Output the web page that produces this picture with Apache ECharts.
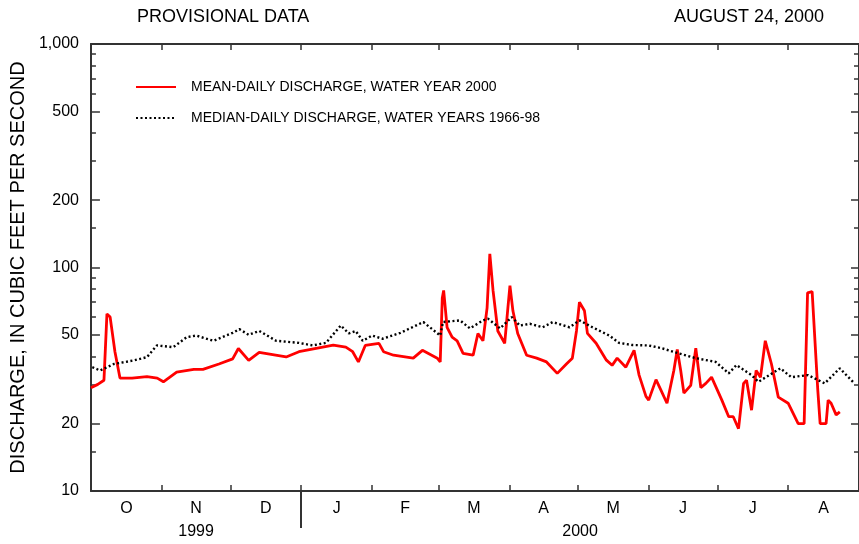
<!DOCTYPE html>
<html><head><meta charset="utf-8">
<script src="https://cdn.jsdelivr.net/npm/echarts@6/dist/echarts.min.js"></script>
<style>html,body{margin:0;padding:0;background:#fff}#c{width:859px;height:544px}</style>
</head><body><div id="c"></div>
<script>
// Day index counted from Oct 1, 1999 (water year 2000)
const meanDays = [0, 3, 5.7, 7, 8.4, 10.5, 12.7, 18, 24.5, 29, 31.7, 37.5, 45, 49, 56, 62, 64.5, 69, 73.6, 85.4, 91, 106, 111.5, 114.5, 117, 120, 126, 128, 132.4, 141, 145, 151.5, 152.8, 153.7, 154.3, 155.8, 158, 160.2, 162.8, 167.2, 169.3, 171.5, 173.3, 174.5, 175.9, 178, 181, 182.4, 183.3, 184.6, 186.7, 190.6, 195, 199.3, 204, 208, 210.6, 212.4, 213.7, 215.9, 217.2, 221, 225.5, 228, 230.2, 234, 237.6, 239.8, 242.8, 244, 247.2, 249.4, 252, 255, 256.5, 258, 259.4, 262.4, 264.6, 266.8, 269, 271.5, 276, 279, 281, 283.3, 285.5, 286.8, 289, 291, 292.9, 295, 297.7, 300.7, 305, 309.4, 312, 313.5, 315.5, 318, 319, 321.6, 322.5, 323.8, 326, 327.6];
const meanValues = [29, 30, 31.3, 62, 60, 42, 32, 32, 32.5, 32, 30.8, 34, 35, 35, 37, 39, 43.4, 38.4, 41.7, 39.8, 42, 45, 44, 42, 37.8, 44.8, 45.8, 42, 40.5, 39.3, 42.6, 39.3, 37.8, 73, 79, 54, 48.8, 47, 41.3, 40.5, 50.7, 47, 66, 115, 79, 52, 45.8, 66, 83, 64, 50.7, 40.5, 39.3, 37.8, 33.6, 37, 39.3, 52, 70, 64, 50.7, 45.8, 38.5, 36.5, 39.3, 35.8, 42.6, 33, 26.5, 25.5, 31.5, 28.2, 24.7, 34.6, 43, 34.6, 27.4, 29.7, 43.5, 29, 30.3, 32.3, 25.5, 21.5, 21.5, 19, 30.3, 31.3, 23, 34.6, 32.3, 47, 37, 26.3, 24.7, 20, 20, 77, 78, 28, 20, 20, 25.5, 24.7, 21.9, 22.6];
const medianDays = [0.6, 4, 10, 18.8, 24.5, 28.8, 36, 41.9, 46, 53.6, 62, 64.9, 69, 73.6, 81, 91, 97, 102.8, 109.3, 112.8, 115.8, 118.9, 123, 127.6, 135.4, 145.4, 152.8, 154, 161.5, 165.8, 171.5, 173.7, 179, 184.1, 187.6, 192, 197.6, 202, 209.4, 213.7, 219.4, 226.8, 231, 236.8, 244, 249.8, 257, 264.6, 273.3, 279, 282.4, 289, 292, 301.6, 306.4, 313.7, 321, 327.6, 334];
const medianValues = [35.8, 34.6, 37, 38.4, 39.7, 44.8, 44, 48.8, 49.6, 47, 51, 53, 50, 52, 47, 46, 44.8, 46, 55, 50.7, 52, 47, 49.6, 48, 51, 57, 49.6, 57, 58, 53.4, 58, 59, 53.4, 60, 55, 56, 54, 57, 54, 58, 54, 49.6, 46, 45, 44.8, 43.5, 41.3, 39.3, 37.8, 33.6, 36.6, 33, 30.8, 35.4, 32.3, 33, 30.3, 35.4, 30.3];

const monthTickDays = [31, 61, 92, 123, 152, 183, 213, 244, 274, 305];
const monthLabelDays = [15.5, 46, 76.5, 107.5, 137.5, 167.5, 198, 228.5, 259, 289.5, 320.5];
const monthLabels = ['O', 'N', 'D', 'J', 'F', 'M', 'A', 'M', 'J', 'J', 'A'];
const yearBreakDay = [92];
const yearLabelDays = [46, 214];
const yearLabels = ['1999', '2000'];
const yLabelValues = [10, 20, 50, 100, 200, 500, 1000];
const yLabelTexts = ['10', '20', '50', '100', '200', '500', '1,000'];
const yMinorTicks = [15, 30, 40, 60, 70, 80, 90, 150, 300, 400, 600, 700, 800, 900];
const meanName = 'MEAN-DAILY DISCHARGE, WATER YEAR 2000';
const medianName = 'MEDIAN-DAILY DISCHARGE, WATER YEARS 1966-98';

const FONT = 'Liberation Sans, Arial, Helvetica, sans-serif';
const AX = '#333';
function pairs(xs, ys) { return xs.map((x, i) => [x, ys[i]]); }
function lookup(keys, texts) {
  return function (v) {
    for (let i = 0; i < keys.length; i++) if (Math.abs(keys[i] - v) < 0.01 * Math.max(1, keys[i])) return texts[i];
    return '';
  };
}
const xBase = { type: 'value', min: 0, max: 336, gridIndex: 0, splitLine: { show: false } };
const yBase = { type: 'log', logBase: 10, min: 10, max: 1000, gridIndex: 0, splitLine: { show: false } };

const chart = echarts.init(document.getElementById('c'), null, { renderer: 'canvas' });
chart.setOption({
  animation: false,
  backgroundColor: '#fff',
  textStyle: { fontFamily: FONT },
  title: [
    { text: 'PROVISIONAL DATA', left: 137, top: 8, padding: 0, textStyle: { fontSize: 18, fontWeight: 'normal', color: '#000', fontFamily: FONT } },
    { text: 'AUGUST 24, 2000', left: 674, top: 8, padding: 0, textStyle: { fontSize: 18, fontWeight: 'normal', color: '#000', fontFamily: FONT } }
  ],
  legend: {
    orient: 'vertical', left: 135, top: 80, padding: 0, itemWidth: 40, itemHeight: 14, itemGap: 17,
    data: [meanName, medianName],
    itemStyle: { opacity: 0 },
    textStyle: { fontSize: 14, color: '#000', fontFamily: FONT, padding: [0, 0, 0, 10] }
  },
  grid: { left: 89, right: -2, top: 44, bottom: 53, containLabel: false },
  xAxis: [
    Object.assign({}, xBase, {
      position: 'bottom',
      axisLine: { show: true, onZero: false, lineStyle: { color: AX, width: 2 } },
      axisTick: { show: true, inside: true, length: 6, customValues: monthTickDays, lineStyle: { color: AX, width: 1.5 } },
      axisLabel: { show: true, customValues: monthLabelDays, formatter: lookup(monthLabelDays, monthLabels), fontSize: 16, color: '#000', margin: 10, fontFamily: FONT }
    }),
    Object.assign({}, xBase, {
      position: 'bottom',
      axisLine: { show: false, onZero: false },
      axisTick: { show: true, inside: false, length: 37, customValues: yearBreakDay, lineStyle: { color: AX, width: 2 } },
      axisLabel: { show: true, customValues: yearLabelDays, formatter: lookup(yearLabelDays, yearLabels), fontSize: 16, color: '#000', margin: 33, fontFamily: FONT }
    }),
    Object.assign({}, xBase, {
      position: 'top',
      axisLine: { show: true, onZero: false, lineStyle: { color: AX, width: 2 } },
      axisTick: { show: true, inside: true, length: 6, customValues: monthTickDays, lineStyle: { color: AX, width: 1.5 } },
      axisLabel: { show: false }
    })
  ],
  yAxis: [
    Object.assign({}, yBase, {
      position: 'left',
      name: 'DISCHARGE, IN CUBIC FEET PER SECOND', nameLocation: 'middle', nameGap: 61, nameRotate: 90,
      nameTextStyle: { fontSize: 20, color: '#000', fontFamily: FONT },
      axisLine: { show: true, onZero: false, lineStyle: { color: AX, width: 2 } },
      axisTick: { show: true, inside: true, length: 9, customValues: yLabelValues, lineStyle: { color: AX, width: 1.5 } },
      axisLabel: { show: true, customValues: yLabelValues, formatter: lookup(yLabelValues, yLabelTexts), fontSize: 16, color: '#000', margin: 12, fontFamily: FONT }
    }),
    Object.assign({}, yBase, {
      position: 'left',
      axisLine: { show: false, onZero: false },
      axisTick: { show: true, inside: true, length: 5, customValues: yMinorTicks, lineStyle: { color: AX, width: 1.5 } },
      axisLabel: { show: false }
    }),
    Object.assign({}, yBase, {
      position: 'right',
      axisLine: { show: true, onZero: false, lineStyle: { color: AX, width: 2 } },
      axisTick: { show: true, inside: true, length: 8, customValues: yLabelValues, lineStyle: { color: AX, width: 1.5 } },
      axisLabel: { show: false }
    }),
    Object.assign({}, yBase, {
      position: 'right',
      axisLine: { show: false, onZero: false },
      axisTick: { show: true, inside: true, length: 5, customValues: yMinorTicks, lineStyle: { color: AX, width: 1.5 } },
      axisLabel: { show: false }
    })
  ],
  series: [
    {
      name: meanName, type: 'line', xAxisIndex: 0, yAxisIndex: 0, symbol: 'none', showSymbol: false,
      data: pairs(meanDays, meanValues), z: 2,
      lineStyle: { color: '#ff0000', width: 2.8 }, itemStyle: { color: '#ff0000' }
    },
    {
      name: medianName, type: 'line', xAxisIndex: 0, yAxisIndex: 0, symbol: 'none', showSymbol: false,
      data: pairs(medianDays, medianValues), z: 3,
      lineStyle: { color: '#000', width: 2.4, type: [2, 2.5] }, itemStyle: { color: '#000' }
    }
  ]
});
</script></body></html>
